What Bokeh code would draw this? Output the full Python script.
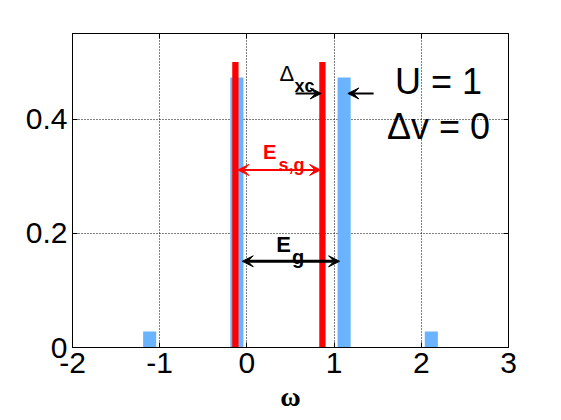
from bokeh.plotting import figure
from bokeh.models import Range1d, FixedTicker, Label, Arrow, VeeHead, LinearAxis, CustomJSTickFormatter
from bokeh.embed import file_html
from bokeh.resources import INLINE

# ---- data ----
omega_ticks = [-2, -1, 0, 1, 2, 3]
omega_tick_labels = ["-2", "-1", "0", "1", "2", "3"]
dos_ticks = [0, 0.2, 0.4]
dos_tick_labels = ["0", "0.2", "0.4"]

# many-body spectral peaks (blue)
mb_omega = [-1.115, -0.115, 1.115, 2.115]
mb_weight = [0.028, 0.473, 0.473, 0.028]
# Kohn-Sham peaks (red)
ks_omega = [-0.132, 0.866]
ks_weight = [0.5, 0.5]

# annotation arrows: (x_start, x_end, y)
eg_arrow = [-0.053, 1.063, 0.151]
esg_arrow = [-0.103, 0.845, 0.311]
dxc_right_arrow = [0.558, 0.852, 0.445]
dxc_left_arrow = [1.453, 1.158, 0.445]

FONT = "Liberation Sans"
BLUE = "#6AB4FF"
RED = "#FF0000"

p = figure(width=553, height=418, output_backend="svg", toolbar_location=None,
           x_range=Range1d(-2, 3), y_range=Range1d(0, 0.55),
           min_border_left=72, min_border_right=45, min_border_top=33, min_border_bottom=71)
p.background_fill_color = "white"
p.border_fill_color = "white"
p.outline_line_color = "black"
p.outline_line_width = 1

# bars
p.vbar(x=mb_omega, top=mb_weight, bottom=0, width=0.15, fill_color=BLUE, line_color=None)
p.vbar(x=ks_omega, top=ks_weight, bottom=0, width=0.072, fill_color=RED, line_color=None)

# axes
for ax in (p.xaxis[0], p.yaxis[0]):
    ax.axis_line_color = "black"
    ax.major_tick_in = 5
    ax.major_tick_out = 0
    ax.minor_tick_line_color = None
    ax.major_label_text_font = FONT
    ax.major_label_text_font_size = "30px"
    ax.major_label_text_color = "black"
    ax.major_label_standoff = 5
p.xaxis.ticker = FixedTicker(ticks=omega_ticks)
p.xaxis.major_label_overrides = {t: s for t, s in zip(omega_ticks, omega_tick_labels)}
p.yaxis.ticker = FixedTicker(ticks=dos_ticks)
p.yaxis.major_label_overrides = {t: s for t, s in zip(dos_ticks, dos_tick_labels)}

p.xaxis.axis_label = "\u03c9"
p.xaxis.axis_label_text_font = "Liberation Serif"
p.xaxis.axis_label_text_font_style = "bold"
p.xaxis.axis_label_text_font_size = "28px"
p.xaxis.axis_label_text_color = "black"
p.xaxis.axis_label_standoff = 5

# mirrored ticks on top / right
for loc, tk in (("above", omega_ticks), ("right", dos_ticks)):
    ax = LinearAxis(ticker=FixedTicker(ticks=tk), formatter=CustomJSTickFormatter(code="return ''"))
    ax.major_tick_in = 5
    ax.major_tick_out = 0
    ax.minor_tick_line_color = None
    ax.major_label_text_font_size = "1px"
    ax.major_label_standoff = 0
    p.add_layout(ax, loc)

# grid
p.xgrid.ticker = FixedTicker(ticks=omega_ticks[1:-1])
p.ygrid.ticker = FixedTicker(ticks=dos_ticks[1:])
for g in (p.xgrid[0], p.ygrid[0]):
    g.grid_line_color = "black"
    g.grid_line_dash = "1 2"
    g.grid_line_width = 1

# arrows
def add_arrow(spec, color, lw, both):
    head = dict(size=11, fill_color=color, line_color=color, line_width=1)
    p.add_layout(Arrow(x_start=spec[0], y_start=spec[2], x_end=spec[1], y_end=spec[2],
                       line_color=color, line_width=lw,
                       end=VeeHead(**head),
                       start=VeeHead(**head) if both else None))

add_arrow(eg_arrow, "black", 3, True)
add_arrow(esg_arrow, RED, 2, True)
add_arrow(dxc_right_arrow, "black", 2, False)
add_arrow(dxc_left_arrow, "black", 2, False)

def lab(x, y, text, size, color="black", style="normal", align="left", font=FONT):
    p.add_layout(Label(x=x, y=y, text=text, text_font=font, text_font_size=size,
                       text_font_style=style, text_color=color, text_align=align,
                       text_baseline="alphabetic"))

# annotation texts
lab(2.198, 0.4655, "U = 1", "36px", align="center")
lab(2.198, 0.3873, "\u0394v = 0", "36px", align="center")
lab(0.375, 0.4805, "\u0394", "22px")
lab(0.547, 0.4586, "xc", "18px", style="bold")
lab(0.1835, 0.3426, "E", "20px", color=RED, style="bold")
lab(0.3635, 0.3195, "s,g", "18px", color=RED, style="bold")
lab(0.337, 0.1803, "E", "22px", style="bold")
lab(0.516, 0.158, "g", "20px", style="bold")

open("out.html", "w").write(file_html(p, INLINE))
